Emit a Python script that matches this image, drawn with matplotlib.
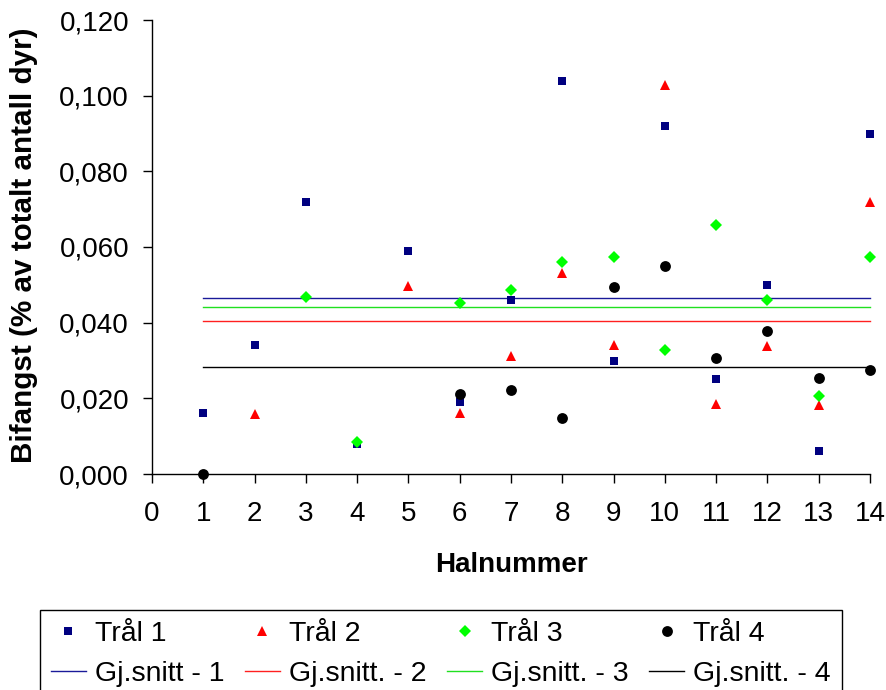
import numpy as np
import matplotlib
matplotlib.use("Agg")
import matplotlib.pyplot as plt
from matplotlib.ticker import FuncFormatter, MultipleLocator

plt.rcParams['font.family'] = ['Liberation Sans', 'DejaVu Sans']

# Haul numbers and by-catch share (% of total animals) per trawl
halnr = np.arange(1, 15)
nan = np.nan
tral1 = [0.016, 0.034, 0.072, 0.008, 0.059, 0.019, 0.046, 0.104, 0.030, 0.092, 0.025, 0.050, 0.006, 0.090]
tral2 = [nan, 0.0158, nan, nan, 0.0497, 0.0162, 0.0313, 0.0532, 0.0340, 0.1027, 0.0185, 0.0339, 0.0183, 0.0718]
tral3 = [nan, nan, 0.0468, 0.0085, nan, 0.0453, 0.0487, 0.0561, 0.0573, 0.0329, 0.0657, 0.0460, 0.0206, 0.0573]
tral4 = [0.000, nan, nan, nan, nan, 0.0211, 0.0222, 0.0149, 0.0493, 0.0551, 0.0307, 0.0377, 0.0254, 0.0276]

series_labels = ["Trål 1", "Trål 2", "Trål 3", "Trål 4"]
mean_labels = ["Gj.snitt - 1", "Gj.snitt. - 2", "Gj.snitt. - 3", "Gj.snitt. - 4"]
x_label = "Halnummer"
y_label = "Bifangst (% av totalt antall dyr)"

colors = ["#000080", "#FF0000", "#00FF00", "#000000"]
line_colors = ["#1A1A99", "#FF2020", "#20E020", "#000000"]
markers = ["s", "^", "D", "o"]
msizes = [6.2, 7.6, 6.6, 7.8]

fig = plt.figure(figsize=(8.87, 6.9), dpi=100)
ax = fig.add_axes([152 / 887, 1 - 474 / 690, 718 / 887, 454 / 690])

all_series = [tral1, tral2, tral3, tral4]

# Average lines for each trawl, spanning the first to the last haul
mean_handles = []
for vals, c, lab in zip(all_series, line_colors, mean_labels):
    m = np.nanmean(np.array(vals, dtype=float))
    h, = ax.plot([halnr[0], halnr[-1]], [m, m], color=c, lw=1.0, zorder=2,
                 label=lab, clip_on=False)
    mean_handles.append(h)

# Individual hauls
point_handles = []
for i, (vals, c, mk, ms, lab) in enumerate(zip(all_series, colors, markers, msizes, series_labels)):
    h, = ax.plot(halnr, vals, linestyle="none", marker=mk, markersize=ms,
                 color=c, markeredgewidth=0, zorder=3 + i, label=lab, clip_on=False)
    point_handles.append(h)

ax.set_xlim(0, 14)
ax.set_ylim(0, 0.12)
ax.xaxis.set_major_locator(MultipleLocator(1))
ax.yaxis.set_major_locator(MultipleLocator(0.02))
ax.yaxis.set_major_formatter(FuncFormatter(lambda v, p: f"{v:.3f}".replace(".", ",")))

for side in ("top", "right"):
    ax.spines[side].set_visible(False)
for side in ("left", "bottom"):
    ax.spines[side].set_linewidth(1.0)
    ax.spines[side].set_color("black")

ax.tick_params(axis="both", direction="out", length=6.5, width=1.0, colors="black",
               labelsize=20)
ax.tick_params(axis="y", pad=10)
ax.tick_params(axis="x", pad=13)

fig.text(511 / 887, 1 - 565 / 690, x_label, ha="center", va="center",
         fontsize=20, fontweight="bold")
fig.text(24 / 887, 1 - 245 / 690, y_label, ha="center", va="center",
         rotation=90, fontsize=21.3, fontweight="bold")

# Legend: markers on the first row, average lines on the second
handles = []
for p, l in zip(point_handles, mean_handles):
    handles += [p, l]
leg = fig.legend(handles=handles, labels=[h.get_label() for h in handles],
                 ncol=4, loc="upper left",
                 bbox_to_anchor=(40 / 887, 1 - 610 / 690),
                 bbox_transform=fig.transFigure, borderaxespad=0,
                 fontsize=20.5, frameon=True, fancybox=False, framealpha=1,
                 edgecolor="black", handlelength=1.23, handletextpad=0.32,
                 columnspacing=0.72, labelspacing=0.5, borderpad=0.38, numpoints=1)
leg.get_frame().set_linewidth(1.0)

fig.savefig("out.png", dpi=100)
